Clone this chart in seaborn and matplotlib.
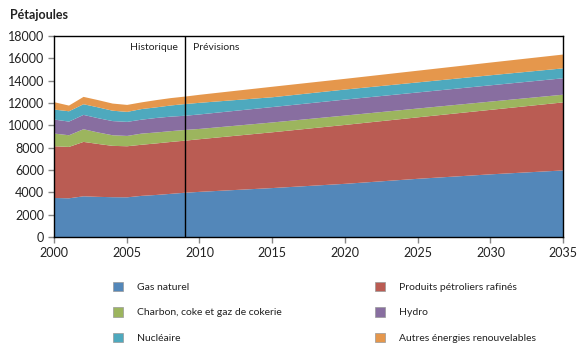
import matplotlib
matplotlib.use("Agg")
import matplotlib.pyplot as plt
import seaborn as sns
from matplotlib.patches import Patch

# Données (pétajoules)
years = [2000, 2001, 2002, 2003, 2004, 2005, 2006, 2007, 2008, 2009,
         2010, 2015, 2020, 2025, 2030, 2035]
gas_naturel = [3530, 3500, 3680, 3630, 3600, 3590, 3720, 3800, 3900, 4000,
               4080, 4420, 4800, 5250, 5650, 6000]
produits_petroliers = [4635, 4605, 4875, 4740, 4600, 4575, 4580, 4620, 4650, 4670,
                       4720, 5000, 5280, 5510, 5780, 6100]
charbon = [1135, 1045, 1135, 1030, 950, 925, 1000, 980, 970, 960,
           920, 880, 840, 790, 740, 690]
hydro = [1255, 1225, 1285, 1280, 1270, 1260, 1250, 1300, 1300, 1270,
         1300, 1380, 1430, 1440, 1460, 1470]
nucleaire = [895, 925, 955, 970, 930, 895, 950, 950, 1000, 1050,
             1040, 880, 900, 900, 900, 890]
autres = [660, 510, 660, 650, 640, 625, 600, 650, 660, 670,
          720, 940, 960, 1050, 1140, 1240]

labels = ["Gas naturel", "Produits pétroliers rafinés", "Charbon, coke et gaz de cokerie",
          "Hydro", "Nucléaire", "Autres énergies renouvelables"]
colors = ["#5387b9", "#ba5c53", "#9cb55e", "#886ea0", "#4ea9be", "#e5974c"]

sns.set_theme(style="white")
plt.rcParams['font.family'] = ['Lato', 'DejaVu Sans']

fig = plt.figure(figsize=(5.8, 3.53), dpi=100)
ax = fig.add_axes([0.093, 0.329, 0.878, 0.569])

ax.stackplot(years, gas_naturel, produits_petroliers, charbon, hydro, nucleaire, autres,
             colors=colors, linewidth=0)

ax.set_xlim(2000, 2035)
ax.set_ylim(0, 18000)
ax.set_xticks(range(2000, 2036, 5))
ax.set_yticks(range(0, 18001, 2000))
ax.tick_params(axis='both', direction='out', length=4, width=1, color='#888888',
               labelsize=9, labelcolor='#222222', pad=3)
ax.tick_params(bottom=True, left=True)
for s in ax.spines.values():
    s.set_color('black')
    s.set_linewidth(1)

# séparation historique / prévisions
ax.axvline(2009, color='black', linewidth=1)
ax.text(2008.5, 17000, "Historique", ha='right', va='center', fontsize=7.5, color='#222222')
ax.text(2009.55, 17000, "Prévisions", ha='left', va='center', fontsize=7.5, color='#222222')

fig.text(0.017, 0.958, "Pétajoules", fontsize=9, fontweight='bold', color='#222222',
         ha='left', va='center')

# légende en deux colonnes
order = [0, 2, 4, 1, 3, 5]
handles = [Patch(facecolor=colors[i], edgecolor='#999999', linewidth=0.5) for i in order]
fig.legend(handles, [labels[i] for i in order], ncol=2, frameon=False,
           loc='upper left', bbox_to_anchor=(0.178, 0.228), fontsize=7.5,
           handlelength=1.0, handleheight=1.0, handletextpad=1.3,
           columnspacing=9.0, labelspacing=1.45, labelcolor='#222222')

fig.savefig("out.png", dpi=100)
